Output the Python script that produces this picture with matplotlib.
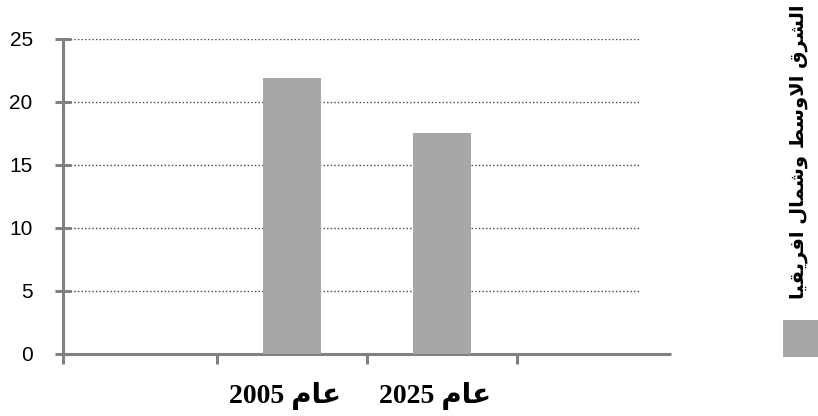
import matplotlib
matplotlib.use("Agg")
import matplotlib.pyplot as plt
from matplotlib.patches import Rectangle
from matplotlib.transforms import ScaledTranslation

# ---- data ----
series_name = "الشرق الاوسط وشمال افريقيا"
year_prefix = "عام"
years = ["2005", "2025"]
values = [21.9, 17.5]
positions = [1, 2]
yticks = [0, 5, 10, 15, 20, 25]
slot_edges = [-0.53, 0.5, 1.5, 2.5]

# minimal Arabic shaping (presentation forms, visual order)
FORMS = {
    'ا': (0xFE8D, 0xFE8E), 'ر': (0xFEAD, 0xFEAE), 'و': (0xFEED, 0xFEEE),
    'ع': (0xFEC9, 0xFECA, 0xFECB, 0xFECC), 'م': (0xFEE1, 0xFEE2, 0xFEE3, 0xFEE4),
    'ل': (0xFEDD, 0xFEDE, 0xFEDF, 0xFEE0), 'ش': (0xFEB5, 0xFEB6, 0xFEB7, 0xFEB8),
    'ق': (0xFED5, 0xFED6, 0xFED7, 0xFED8), 'س': (0xFEB1, 0xFEB2, 0xFEB3, 0xFEB4),
    'ط': (0xFEC1, 0xFEC2, 0xFEC3, 0xFEC4), 'ف': (0xFED1, 0xFED2, 0xFED3, 0xFED4),
    'ي': (0xFEF1, 0xFEF2, 0xFEF3, 0xFEF4), 'LA': (0xFEFB, 0xFEFC),
}


def shape_ar(text):
    seq = []
    i = 0
    while i < len(text):
        if text[i] == 'ل' and i + 1 < len(text) and text[i + 1] == 'ا':
            seq.append('LA')
            i += 2
        else:
            seq.append(text[i])
            i += 1

    def dual(c):
        return c in FORMS and len(FORMS[c]) == 4

    res = []
    for k, c in enumerate(seq):
        if c not in FORMS:
            res.append(c)
            continue
        f = FORMS[c]
        prev = seq[k - 1] if k > 0 else None
        nxt = seq[k + 1] if k + 1 < len(seq) else None
        jp = prev is not None and dual(prev)
        jn = len(f) == 4 and nxt is not None and nxt in FORMS
        if jp and jn:
            g = f[3]
        elif jp:
            g = f[1]
        elif jn:
            g = f[2]
        else:
            g = f[0]
        res.append(chr(g))
    return ''.join(reversed(res))


labels = [y + " " + shape_ar(year_prefix) for y in years]

AX_COL = '#808080'
BAR_COL = '#a7a7aa'

fig = plt.figure(figsize=(8.18, 4.16), dpi=100)
ax = fig.add_axes([62.5 / 818, 1 - 353.5 / 416, (671 - 62.5) / 818, (353.5 - 39) / 416])

ax.bar(positions, values, width=0.387, color=BAR_COL, zorder=3)

ax.set_xlim(-0.53, 3.53)
ax.set_ylim(0, 25)

for s in ['top', 'right']:
    ax.spines[s].set_visible(False)
for s in ['left', 'bottom']:
    ax.spines[s].set_color(AX_COL)
    ax.spines[s].set_linewidth(2.2)
    ax.spines[s].set_capstyle('butt')

# gridlines (end before the axis end)
ax.hlines(yticks[1:], 0, 0.949, transform=ax.get_yaxis_transform(),
          colors='#444444', linestyles=(0, (1, 1.6)), linewidth=1.0, zorder=1)

ax.set_yticks(yticks)
ax.tick_params(axis='y', direction='inout', length=11, width=2.2, color=AX_COL,
               pad=16, labelsize=15)
for t in ax.get_yticklabels():
    t.set_fontfamily(['Liberation Sans', 'DejaVu Sans'])

# category boundary ticks (minor) and labels (major, drawn as text)
ax.set_xticks(slot_edges, minor=True)
ax.set_xticks(positions)
ax.set_xticklabels([])
ax.tick_params(axis='x', which='minor', direction='out', length=7.5, width=2.2, color=AX_COL)
ax.tick_params(axis='x', which='major', length=0)
shift = ScaledTranslation(-7 / 100, -28 / 100, fig.dpi_scale_trans)
for p, lab in zip(positions, labels):
    ax.text(p, 0, lab, transform=ax.get_xaxis_transform() + shift,
            ha='center', va='top', fontsize=20, fontweight='bold',
            family=['Liberation Serif', 'DejaVu Sans'])

# legend: swatch + rotated label
fig.patches.append(Rectangle((783 / 818, 1 - 357 / 416), 36 / 818, 37 / 416,
                             transform=fig.transFigure, facecolor=BAR_COL,
                             edgecolor='none'))
fig.text(798 / 818, 1 - 152 / 416, shape_ar(series_name), rotation=90,
         ha='center', va='center', fontsize=14, fontweight='bold',
         family=['DejaVu Sans'])

fig.savefig('out.png', dpi=100)
